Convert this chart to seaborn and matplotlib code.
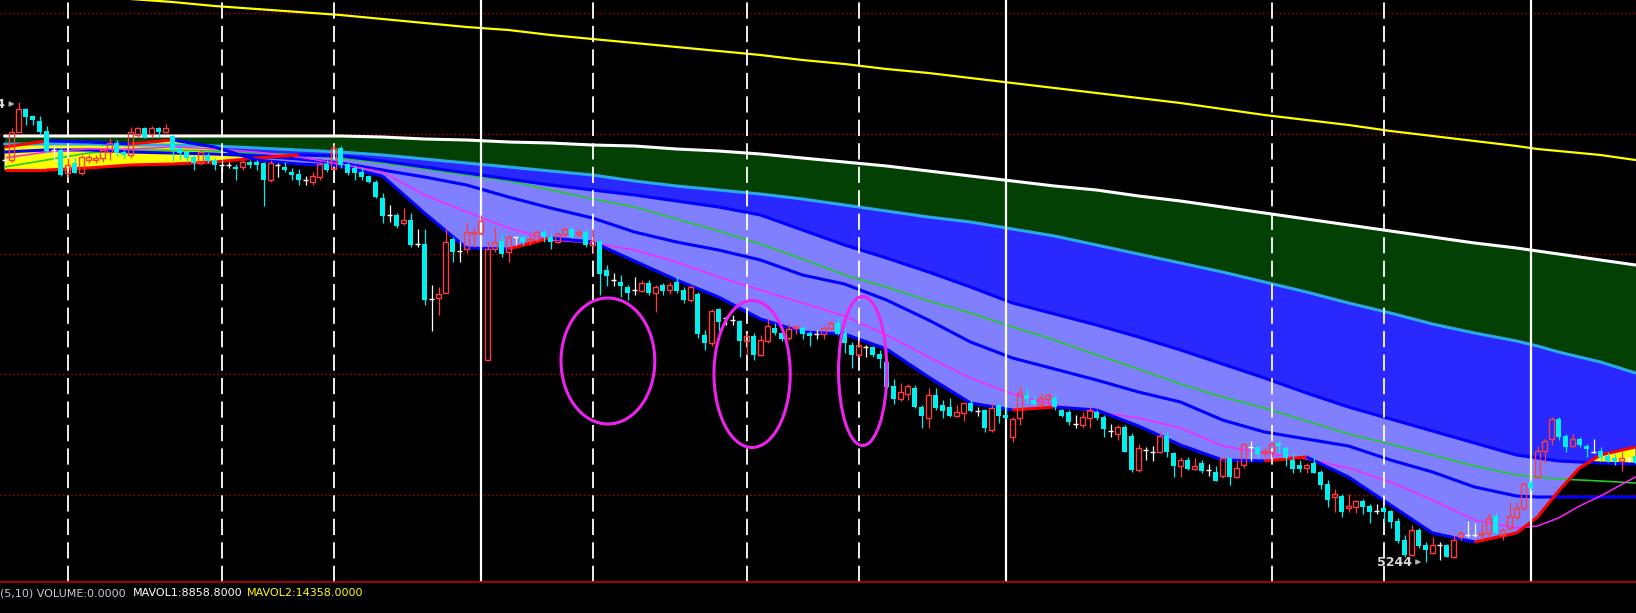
import matplotlib
matplotlib.use("Agg")
import matplotlib.pyplot as plt
import seaborn as sns
import numpy as np
import pandas as pd
from matplotlib.patches import Ellipse
from matplotlib.collections import LineCollection

# ---- candles (one per bar, price units) ----
opens = [
    5646, 5646, 5674, 5697, 5690, 5685, 5675, 5656, 5656, 5633,
    5643, 5633, 5646, 5646, 5648, 5654, 5663, 5654, 5651, 5671,
    5678, 5672, 5678, 5674, 5670, 5658, 5654, 5649, 5643, 5651,
    5646, 5641, 5641, 5639, 5639, 5644, 5644, 5643, 5626, 5641,
    5639, 5634, 5632, 5626, 5624, 5629, 5642, 5637, 5658, 5642,
    5638, 5634, 5630, 5624, 5608, 5591, 5591, 5583, 5586, 5562,
    5562, 5507, 5508, 5513, 5567, 5555, 5557, 5572, 5573, 5446,
    5557, 5565, 5554, 5569, 5569, 5565, 5566, 5574, 5569, 5564,
    5572, 5577, 5572, 5574, 5561, 5565, 5536, 5526, 5524, 5519,
    5516, 5515, 5523, 5513, 5521, 5516, 5524, 5516, 5506, 5512,
    5471, 5463, 5497, 5488, 5486, 5485, 5465, 5470, 5451, 5465,
    5478, 5473, 5468, 5478, 5478, 5473, 5472, 5472, 5478, 5483,
    5473, 5461, 5451, 5459, 5459, 5452, 5444, 5420, 5407, 5412,
    5418, 5399, 5388, 5411, 5401, 5399, 5390, 5393, 5403, 5395,
    5396, 5376, 5401, 5391, 5369, 5388, 5411, 5406, 5402, 5407,
    5408, 5396, 5394, 5382, 5381, 5388, 5394, 5389, 5375, 5372,
    5379, 5370, 5336, 5356, 5354, 5354, 5370, 5353, 5340, 5346,
    5337, 5343, 5336, 5334, 5330, 5348, 5329, 5341, 5359, 5359,
    5353, 5354, 5363, 5358, 5346, 5341, 5338, 5343, 5334, 5322,
    5309, 5310, 5298, 5299, 5305, 5300, 5295, 5298, 5295, 5285,
    5266, 5251, 5276, 5261, 5253, 5261, 5261, 5249, 5269, 5271,
    5271, 5271, 5273, 5290, 5271, 5278, 5289, 5298, 5323, 5329,
    5355, 5367, 5387, 5370, 5360, 5367, 5360, 5354, 5355, 5350,
    5348, 5345, 5347, 5350,
]
closes = [
    5646, 5674, 5697, 5689, 5686, 5674, 5655, 5656, 5631, 5641,
    5633, 5649, 5649, 5648, 5656, 5663, 5653, 5651, 5674, 5678,
    5669, 5678, 5674, 5678, 5656, 5653, 5648, 5643, 5654, 5645,
    5641, 5641, 5641, 5637, 5644, 5641, 5641, 5626, 5643, 5641,
    5636, 5631, 5626, 5626, 5630, 5642, 5636, 5658, 5641, 5633,
    5633, 5629, 5624, 5609, 5590, 5591, 5580, 5586, 5561, 5562,
    5506, 5507, 5512, 5564, 5554, 5555, 5574, 5574, 5585, 5557,
    5564, 5552, 5569, 5569, 5564, 5567, 5574, 5569, 5564, 5572,
    5577, 5569, 5574, 5561, 5565, 5532, 5530, 5526, 5520, 5513,
    5516, 5523, 5513, 5519, 5515, 5521, 5515, 5506, 5519, 5472,
    5463, 5495, 5484, 5488, 5486, 5465, 5470, 5451, 5466, 5480,
    5473, 5467, 5477, 5480, 5472, 5470, 5472, 5478, 5483, 5472,
    5463, 5451, 5461, 5459, 5451, 5447, 5419, 5407, 5414, 5420,
    5399, 5390, 5411, 5398, 5395, 5390, 5394, 5403, 5395, 5395,
    5378, 5398, 5390, 5388, 5387, 5413, 5407, 5402, 5408, 5411,
    5399, 5390, 5384, 5382, 5389, 5396, 5388, 5377, 5375, 5379,
    5354, 5336, 5358, 5356, 5354, 5370, 5354, 5340, 5346, 5337,
    5340, 5335, 5336, 5325, 5348, 5329, 5338, 5362, 5359, 5352,
    5355, 5362, 5360, 5348, 5337, 5337, 5341, 5333, 5321, 5306,
    5312, 5294, 5300, 5305, 5299, 5294, 5295, 5294, 5284, 5265,
    5251, 5276, 5260, 5256, 5261, 5261, 5249, 5266, 5273, 5271,
    5271, 5273, 5288, 5273, 5276, 5290, 5298, 5322, 5318, 5355,
    5365, 5387, 5369, 5359, 5367, 5361, 5357, 5354, 5349, 5345,
    5345, 5348, 5347, 5343,
]
highs = [
    5649, 5678, 5704, 5698, 5691, 5690, 5680, 5661, 5658, 5648,
    5649, 5651, 5652, 5651, 5658, 5668, 5666, 5656, 5679, 5679,
    5679, 5680, 5679, 5682, 5671, 5659, 5656, 5651, 5656, 5653,
    5648, 5646, 5644, 5642, 5646, 5646, 5646, 5644, 5646, 5643,
    5644, 5638, 5637, 5630, 5634, 5644, 5646, 5661, 5660, 5643,
    5641, 5639, 5631, 5626, 5613, 5601, 5593, 5598, 5593, 5577,
    5577, 5521, 5519, 5577, 5569, 5565, 5584, 5579, 5591, 5565,
    5579, 5572, 5571, 5569, 5570, 5572, 5576, 5576, 5572, 5574,
    5579, 5579, 5577, 5576, 5577, 5566, 5541, 5533, 5531, 5521,
    5529, 5526, 5526, 5521, 5523, 5524, 5529, 5519, 5521, 5514,
    5476, 5497, 5498, 5490, 5491, 5486, 5473, 5473, 5471, 5488,
    5483, 5474, 5483, 5480, 5480, 5475, 5476, 5480, 5485, 5488,
    5478, 5464, 5466, 5461, 5460, 5456, 5446, 5427, 5423, 5422,
    5421, 5401, 5418, 5418, 5406, 5408, 5401, 5403, 5406, 5399,
    5397, 5403, 5402, 5399, 5389, 5420, 5419, 5410, 5413, 5413,
    5411, 5397, 5396, 5391, 5394, 5399, 5396, 5391, 5382, 5381,
    5381, 5373, 5362, 5359, 5360, 5374, 5374, 5354, 5349, 5349,
    5348, 5346, 5342, 5340, 5349, 5349, 5346, 5363, 5365, 5360,
    5358, 5364, 5365, 5360, 5353, 5346, 5343, 5348, 5336, 5326,
    5317, 5312, 5312, 5306, 5307, 5302, 5302, 5301, 5296, 5288,
    5271, 5281, 5278, 5264, 5269, 5264, 5262, 5271, 5276, 5285,
    5283, 5283, 5293, 5293, 5278, 5304, 5304, 5324, 5326, 5360,
    5367, 5389, 5389, 5372, 5372, 5369, 5362, 5367, 5359, 5354,
    5352, 5354, 5350, 5352,
]
lows = [
    5641, 5644, 5674, 5681, 5681, 5671, 5653, 5644, 5630, 5629,
    5633, 5631, 5643, 5643, 5644, 5646, 5650, 5648, 5648, 5669,
    5668, 5668, 5669, 5673, 5645, 5646, 5644, 5636, 5641, 5643,
    5636, 5634, 5638, 5626, 5636, 5638, 5636, 5600, 5624, 5629,
    5634, 5626, 5621, 5621, 5621, 5626, 5634, 5636, 5638, 5631,
    5626, 5626, 5623, 5608, 5583, 5584, 5578, 5581, 5559, 5559,
    5501, 5475, 5491, 5513, 5544, 5544, 5553, 5559, 5571, 5446,
    5554, 5549, 5544, 5561, 5561, 5561, 5564, 5564, 5557, 5563,
    5569, 5568, 5569, 5559, 5554, 5511, 5520, 5520, 5509, 5506,
    5511, 5514, 5511, 5494, 5511, 5512, 5513, 5503, 5504, 5468,
    5456, 5460, 5475, 5481, 5481, 5449, 5451, 5446, 5450, 5463,
    5471, 5465, 5466, 5472, 5467, 5460, 5467, 5467, 5476, 5471,
    5453, 5438, 5449, 5449, 5449, 5438, 5418, 5402, 5405, 5406,
    5398, 5378, 5378, 5396, 5388, 5389, 5389, 5385, 5394, 5390,
    5374, 5374, 5383, 5387, 5364, 5381, 5403, 5401, 5399, 5401,
    5396, 5389, 5381, 5378, 5378, 5378, 5386, 5369, 5369, 5366,
    5354, 5334, 5334, 5346, 5345, 5353, 5349, 5329, 5329, 5336,
    5336, 5333, 5330, 5325, 5328, 5321, 5328, 5338, 5345, 5348,
    5349, 5349, 5353, 5340, 5333, 5334, 5333, 5333, 5317, 5299,
    5294, 5289, 5294, 5293, 5292, 5283, 5292, 5284, 5278, 5263,
    5249, 5250, 5258, 5244, 5252, 5246, 5249, 5248, 5266, 5269,
    5269, 5266, 5269, 5272, 5266, 5276, 5286, 5296, 5316, 5328,
    5343, 5361, 5366, 5354, 5359, 5359, 5349, 5353, 5346, 5344,
    5341, 5335, 5344, 5341,
]

# ---- indicator lines, sampled at these bars ----
knots = [0, 6, 12, 18, 24, 30, 36, 42, 48, 54,
         60, 66, 72, 78, 84, 90, 96, 102, 108, 114,
         120, 126, 132, 138, 144, 150, 156, 162, 168, 174,
         180, 186, 192, 198, 204, 210, 216, 219, 222, 225,
         228, 233]
yellow_ma = [5817, 5813, 5810, 5807, 5804, 5800, 5797, 5794, 5791, 5787,
             5783, 5779, 5776, 5771, 5767, 5763, 5759, 5755, 5751, 5746,
             5742, 5737, 5733, 5728, 5723, 5718, 5713, 5708, 5703, 5697,
             5691, 5686, 5681, 5675, 5670, 5665, 5660, 5657, 5655, 5653,
             5651, 5646]
white_ma = [5670, 5670, 5670, 5670, 5670, 5670, 5670, 5670, 5670, 5669,
            5667, 5666, 5664, 5663, 5661, 5660, 5657, 5655, 5652, 5648,
            5644, 5640, 5635, 5630, 5625, 5620, 5616, 5610, 5605, 5599,
            5593, 5587, 5581, 5575, 5569, 5563, 5558, 5555, 5552, 5549,
            5546, 5541]
cyan_ma = [5662, 5662, 5662, 5661, 5661, 5660, 5658, 5656, 5654, 5651,
           5647, 5643, 5639, 5635, 5631, 5625, 5620, 5616, 5612, 5607,
           5601, 5595, 5589, 5584, 5577, 5570, 5561, 5552, 5543, 5534,
           5524, 5514, 5503, 5493, 5482, 5473, 5465, 5460, 5454, 5449,
           5444, 5433]
band_edge = [5636, 5636, 5638, 5641, 5642, 5644, 5648, 5651, 5650, 5645,
             5639, 5633, 5627, 5621, 5616, 5611, 5605, 5599, 5591, 5576,
             5561, 5548, 5534, 5519, 5503, 5492, 5481, 5469, 5456, 5442,
             5428, 5413, 5399, 5387, 5375, 5363, 5351, 5348, 5345, 5344,
             5343, 5342]
fast_ma = [5659, 5665, 5664, 5662, 5666, 5659, 5646, 5642, 5640, 5630,
           5593, 5558, 5557, 5568, 5564, 5545, 5526, 5509, 5487, 5474,
           5472, 5457, 5429, 5403, 5396, 5399, 5396, 5380, 5361, 5346,
           5345, 5349, 5329, 5301, 5273, 5264, 5273, 5289, 5315, 5338,
           5351, 5359]
green_ma = [5639, 5646, 5653, 5656, 5656, 5655, 5653, 5651, 5648, 5643,
            5637, 5631, 5625, 5616, 5607, 5599, 5587, 5575, 5562, 5547,
            5531, 5519, 5505, 5493, 5479, 5466, 5451, 5437, 5422, 5409,
            5398, 5385, 5372, 5362, 5351, 5340, 5331, 5329, 5327, 5326,
            5325, 5323]
blue_ma = [5654, 5656, 5656, 5654, 5653, 5652, 5650, 5647, 5643, 5636,
           5629, 5621, 5609, 5598, 5588, 5574, 5564, 5556, 5546, 5531,
           5522, 5506, 5486, 5464, 5448, 5437, 5426, 5414, 5404, 5386,
           5374, 5367, 5360, 5346, 5334, 5319, 5310, 5309, 5309, 5309,
           5309, 5309]
magenta_ma = [5648, 5654, 5657, 5657, 5659, 5657, 5654, 5649, 5642, 5634,
              5611, 5594, 5578, 5566, 5563, 5556, 5544, 5529, 5516, 5503,
              5490, 5471, 5449, 5428, 5412, 5401, 5394, 5388, 5378, 5360,
              5353, 5347, 5338, 5324, 5306, 5286, 5278, 5280, 5288, 5300,
              5310, 5329]

grid_levels = [5793, 5672.5, 5552, 5432, 5311.5]
day_breaks = [68, 143, 218]
session_breaks = [9, 31, 47, 84, 106, 122, 181, 197]
# hand-drawn marks: bar centre, price centre, width (bars), height (price)
circle_x = [86.2, 106.8, 122.6]
circle_y = [5445, 5432, 5435]
circle_w = [13.4, 10.9, 6.9]
circle_h = [126, 147, 149]

RED = "#FF3B3B"
CYAN = "#00EFEF"

sns.set_theme(style="dark", rc={"axes.facecolor": "black", "figure.facecolor": "black"})
plt.rcParams["font.family"] = ["DejaVu Sans"]

fig = plt.figure(figsize=(16.36, 6.13), dpi=100)
ax = fig.add_axes([0, 31 / 613, 1, 582 / 613])
ax.set_facecolor("black")

kx = np.array(knots)
f = np.array(fast_ma)
u = np.array(band_edge)

for lvl in grid_levels:
    ax.axhline(lvl, color="#B80000", lw=1, ls=(0, (1, 2)), zorder=0.5)

ax.fill_between(kx, white_ma, cyan_ma, color="#034003", lw=0, zorder=1)
ax.fill_between(kx, cyan_ma, band_edge, color="#2828FF", lw=0, zorder=1.1)
ax.fill_between(kx, f, u, where=f <= u, interpolate=True, color="#8080FF", lw=0, zorder=1.2)
ax.fill_between(kx, f, u, where=f > u, interpolate=True, color="#FFFF00", lw=0, zorder=1.2)

ma = pd.DataFrame({"bar": knots, "yellow": yellow_ma, "white": white_ma, "cyan": cyan_ma,
                   "green": green_ma, "blue": blue_ma, "magenta": magenta_ma})
for col, color, lw in [("cyan", "#2AA8E8", 2.2), ("green", "#22CC22", 1.2),
                       ("blue", "#0000FF", 2.2), ("magenta", "#FF22FF", 1.1),
                       ("white", "white", 2.2), ("yellow", "#FFFF00", 1.6)]:
    sns.lineplot(data=ma, x="bar", y=col, color=color, linewidth=lw, ax=ax,
                 legend=False, zorder=2)


def slope_line(xs, ys, lw):
    pts = np.column_stack([xs, ys])
    segs = np.stack([pts[:-1], pts[1:]], axis=1)
    cols = ["#FF0000" if b >= a else "#0000FF" for a, b in zip(ys[:-1], ys[1:])]
    ax.add_collection(LineCollection(segs, colors=cols, linewidths=lw, zorder=2.1))


slope_line(kx, u, 2.2)
slope_line(kx, f, 2.2)

for b in day_breaks:
    ax.axvline(b, color="white", lw=1.6, zorder=2.5)
for b in session_breaks:
    ax.axvline(b, color="white", lw=1.3, ls=(0, (9, 4)), zorder=2.5)

# candles
o = np.array(opens)
c = np.array(closes)
h = np.array(highs)
l = np.array(lows)
x = np.arange(len(o))
up, dn, fl = c > o, c < o, c == o
ax.vlines(x[up], l[up], o[up], color=RED, lw=0.9, zorder=3)
ax.vlines(x[up], c[up], h[up], color=RED, lw=0.9, zorder=3)
ax.bar(x[up], (c - o)[up], bottom=o[up], width=0.62, facecolor="none",
       edgecolor=RED, linewidth=1.0, zorder=3)
ax.vlines(x[dn], l[dn], h[dn], color=CYAN, lw=0.9, zorder=3)
ax.bar(x[dn], (o - c)[dn], bottom=c[dn], width=0.72, color=CYAN, linewidth=0, zorder=3)
ax.vlines(x[fl], l[fl], h[fl], color="white", lw=0.9, zorder=3)
ax.hlines(o[fl], x[fl] - 0.36, x[fl] + 0.36, color="white", lw=1.0, zorder=3)

for cx, cy, w, hh in zip(circle_x, circle_y, circle_w, circle_h):
    ax.add_patch(Ellipse((cx, cy), w, hh, fill=False, edgecolor="#EE22EE", lw=2.2, zorder=4))

# high / low markers
ax.text(0.1, 5702, "5704", color="#DADADA", fontsize=9, fontweight="bold",
        ha="right", va="center", zorder=5)
ax.annotate("", xy=(1.85, 5702), xytext=(0.35, 5702),
            arrowprops=dict(arrowstyle="-|>", color="#B0B0B0", lw=1, mutation_scale=7), zorder=5)
ax.text(201.1, 5244, "5244", color="#DADADA", fontsize=9, fontweight="bold",
        ha="right", va="center", zorder=5)
ax.annotate("", xy=(202.8, 5244), xytext=(201.3, 5244),
            arrowprops=dict(arrowstyle="-|>", color="#B0B0B0", lw=1, mutation_scale=7), zorder=5)

ax.set_xlim(-0.643, 233.07)
ax.set_ylim(5224, 5806)
ax.set_xticks([])
ax.set_yticks([])
ax.set_xlabel("")
ax.set_ylabel("")
for side in ["top", "left", "right"]:
    ax.spines[side].set_visible(False)
ax.spines["bottom"].set_visible(True)
ax.spines["bottom"].set_color("#C00000")
ax.spines["bottom"].set_linewidth(1.2)
ax.grid(False)

ty = 1 - 593 / 613
fig.text(0.0, ty, "(5,10) VOLUME:0.0000", color="#C8C8D8", fontsize=8, va="center")
fig.text(133 / 1636, ty, "MAVOL1:8858.8000", color="white", fontsize=8, va="center")
fig.text(247 / 1636, ty, "MAVOL2:14358.0000", color="#FFFF00", fontsize=8, va="center")

fig.savefig("out.png", dpi=100, facecolor="black")
